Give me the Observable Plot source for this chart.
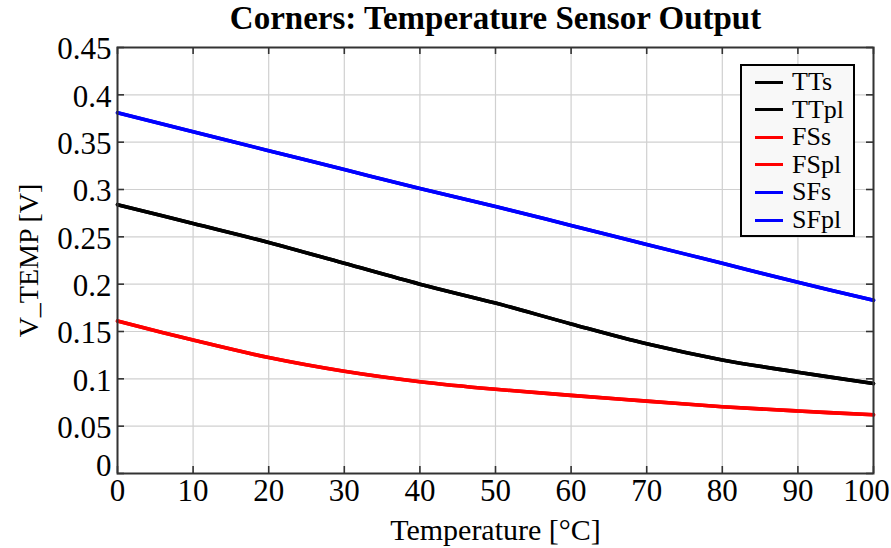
<!DOCTYPE html>
<html>
<head>
<meta charset="utf-8">
<script src="https://cdn.jsdelivr.net/npm/d3@7"></script>
<script src="https://cdn.jsdelivr.net/npm/@observablehq/plot@0.6"></script>
<style>
  html, body { margin: 0; padding: 0; background: #fff; }
  #wrap { position: relative; width: 891px; height: 548px; font-family: "Liberation Serif", "Times New Roman", serif; }
  #legend { position: absolute; left: 740px; top: 64px; width: 111px; height: 169px; border: 2px solid #000; background: #f8f8f8; box-sizing: content-box; }
  .row { position: absolute; left: 0; height: 28px; display: flex; align-items: center; }
  .sw { width: 28px; height: 3px; margin-left: 13px; margin-right: 9px; }
  .lab { font-size: 26px; line-height: 26px; color: #000; }
</style>
</head>
<body>
<div id="wrap"></div>
<script>
const temps = [0, 10, 20, 30, 40, 50, 60, 70, 80, 90, 100];
const TTs  = [0.284, 0.264, 0.244, 0.222, 0.200, 0.180, 0.158, 0.137, 0.120, 0.107, 0.095];
const TTpl = [0.284, 0.264, 0.244, 0.222, 0.200, 0.180, 0.158, 0.137, 0.120, 0.107, 0.095];
const FSs  = [0.161, 0.141, 0.1225, 0.108, 0.097, 0.089, 0.0825, 0.0765, 0.0705, 0.066, 0.062];
const FSpl = [0.161, 0.141, 0.1225, 0.108, 0.097, 0.089, 0.0825, 0.0765, 0.0705, 0.066, 0.062];
const SFs  = [0.381, 0.361, 0.341, 0.321, 0.301, 0.282, 0.262, 0.242, 0.222, 0.202, 0.183];
const SFpl = [0.381, 0.361, 0.341, 0.321, 0.301, 0.282, 0.262, 0.242, 0.222, 0.202, 0.183];
const seriesNames = ["TTs", "TTpl", "FSs", "FSpl", "SFs", "SFpl"];
const seriesColors = ["#000000", "#000000", "#ff0000", "#ff0000", "#0000ff", "#0000ff"];
const xTicks = [0, 10, 20, 30, 40, 50, 60, 70, 80, 90, 100];
const yTicks = [0, 0.05, 0.1, 0.15, 0.2, 0.25, 0.3, 0.35, 0.4, 0.45];
const yTickLabels = ["0", "0.05", "0.1", "0.15", "0.2", "0.25", "0.3", "0.35", "0.4", "0.45"];
const titleText = "Corners: Temperature Sensor Output";
const xLabel = "Temperature [°C]";
const yLabel = "V_TEMP [V]";

const seriesValues = [TTs, TTpl, FSs, FSpl, SFs, SFpl];
const rows = [];
seriesNames.forEach((name, i) => {
  temps.forEach((t, j) => rows.push({series: name, t, v: seriesValues[i][j]}));
});

const fmtY = d => yTickLabels[yTicks.findIndex(v => Math.abs(v - d) < 1e-9)];

const W = 891, H = 548, ML = 117, MR = 18, MT = 47, MB = 75;
const FW = W - ML - MR, FH = H - MT - MB, TK = 7;

const xInner = xTicks.slice(0, -1), xLast = xTicks.slice(-1);
const yInner = yTicks.slice(1), yFirst = yTicks.slice(0, 1);

const chart = Plot.plot({
  width: W,
  height: H,
  marginLeft: ML,
  marginRight: MR,
  marginTop: MT,
  marginBottom: MB,
  style: {fontFamily: "Liberation Serif, Times New Roman, serif", fontSize: "31px", color: "#000", background: "#fff"},
  x: {domain: [0, 100]},
  y: {domain: [0, 0.45]},
  color: {domain: seriesNames, range: seriesColors},
  marks: [
    Plot.gridX(xTicks, {stroke: "#d0d0d0", strokeOpacity: 1, strokeWidth: 1.2}),
    Plot.gridY(yTicks, {stroke: "#d0d0d0", strokeOpacity: 1, strokeWidth: 1.2}),
    Plot.axisX(xInner, {anchor: "bottom", tickSize: 0, tickPadding: 5, label: null, fontSize: 31, fill: "#000"}),
    Plot.axisX(xLast, {anchor: "bottom", tickSize: 0, tickPadding: 5, label: null, fontSize: 31, fill: "#000", dx: -7}),
    Plot.axisY(yInner, {anchor: "left", tickSize: 0, tickPadding: 6, tickFormat: fmtY, label: null, fontSize: 31, fill: "#000", dy: 2}),
    Plot.axisY(yFirst, {anchor: "left", tickSize: 0, tickPadding: 6, tickFormat: fmtY, label: null, fontSize: 31, fill: "#000", dy: -7}),
    Plot.tickX(xTicks, {x: d => d, insetTop: FH - TK, stroke: "#333", strokeWidth: 1.6}),
    Plot.tickX(xTicks, {x: d => d, insetBottom: FH - TK, stroke: "#333", strokeWidth: 1.6}),
    Plot.tickY(yTicks, {y: d => d, insetRight: FW - TK, stroke: "#333", strokeWidth: 1.6}),
    Plot.tickY(yTicks, {y: d => d, insetLeft: FW - TK, stroke: "#333", strokeWidth: 1.6}),
    Plot.line(rows, {x: "t", y: "v", z: "series", stroke: "series", strokeWidth: 3.6, curve: "catmull-rom"}),
    Plot.frame({stroke: "#333", strokeWidth: 2}),
    Plot.text([titleText], {frameAnchor: "top", lineAnchor: "middle", textAnchor: "middle", dy: -28.6, fontSize: 33, fontWeight: "bold", fill: "#000"}),
    Plot.text([xLabel], {frameAnchor: "bottom", lineAnchor: "middle", textAnchor: "middle", dy: 56.4, fontSize: 30, fill: "#000"}),
    Plot.text([yLabel], {frameAnchor: "left", lineAnchor: "middle", textAnchor: "middle", dx: -88, rotate: -90, fontSize: 28, fill: "#000"})
  ]
});
const wrap = document.getElementById("wrap");
wrap.appendChild(chart);

const legend = document.createElement("div");
legend.id = "legend";
seriesNames.forEach((name, i) => {
  const r = document.createElement("div");
  r.className = "row";
  r.style.top = (2 + i * 27.6) + "px";
  const sw = document.createElement("div");
  sw.className = "sw";
  sw.style.background = seriesColors[i];
  const lab = document.createElement("span");
  lab.className = "lab";
  lab.textContent = name;
  r.appendChild(sw);
  r.appendChild(lab);
  legend.appendChild(r);
});
wrap.appendChild(legend);
</script>
</body>
</html>
